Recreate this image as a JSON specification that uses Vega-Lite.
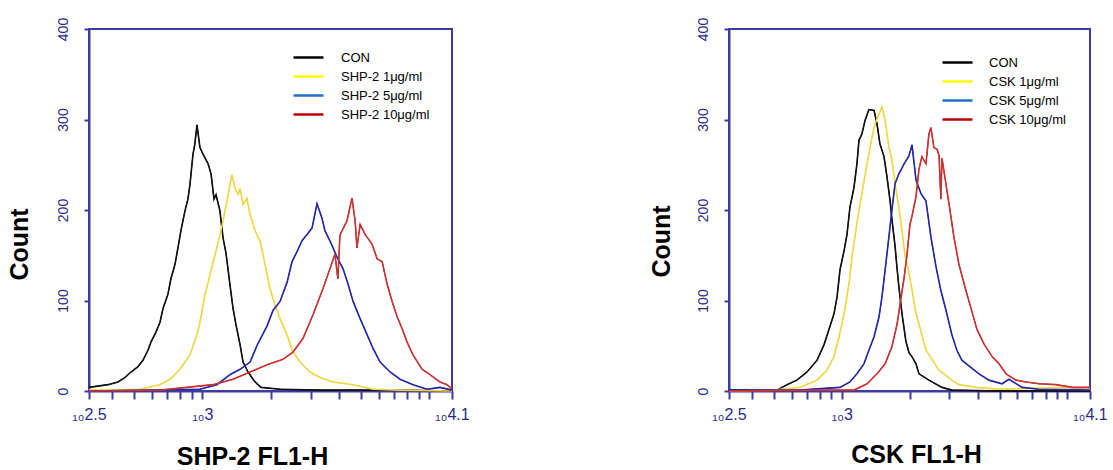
{
  "$schema": "https://vega.github.io/schema/vega-lite/v6.json",
  "background": "white",
  "padding": {"left": 6, "top": 16, "right": 5, "bottom": 0},
  "spacing": 177,
  "datasets": {
    "shp2": [
      {"sample":"CON","log10_FL1H":2.5,"count":4},{"sample":"CON","log10_FL1H":2.584,"count":7},{"sample":"CON","log10_FL1H":2.628,"count":10},{"sample":"CON","log10_FL1H":2.659,"count":15},{"sample":"CON","log10_FL1H":2.685,"count":21},{"sample":"CON","log10_FL1H":2.716,"count":27},{"sample":"CON","log10_FL1H":2.738,"count":34},{"sample":"CON","log10_FL1H":2.76,"count":45},{"sample":"CON","log10_FL1H":2.773,"count":54},{"sample":"CON","log10_FL1H":2.795,"count":65},{"sample":"CON","log10_FL1H":2.813,"count":76},{"sample":"CON","log10_FL1H":2.826,"count":91},{"sample":"CON","log10_FL1H":2.848,"count":107},{"sample":"CON","log10_FL1H":2.861,"count":124},{"sample":"CON","log10_FL1H":2.879,"count":140},{"sample":"CON","log10_FL1H":2.892,"count":158},{"sample":"CON","log10_FL1H":2.905,"count":177},{"sample":"CON","log10_FL1H":2.923,"count":199},{"sample":"CON","log10_FL1H":2.936,"count":212},{"sample":"CON","log10_FL1H":2.945,"count":228},{"sample":"CON","log10_FL1H":2.958,"count":261},{"sample":"CON","log10_FL1H":2.967,"count":274},{"sample":"CON","log10_FL1H":2.976,"count":294},{"sample":"CON","log10_FL1H":2.989,"count":269},{"sample":"CON","log10_FL1H":3.002,"count":262},{"sample":"CON","log10_FL1H":3.025,"count":251},{"sample":"CON","log10_FL1H":3.038,"count":240},{"sample":"CON","log10_FL1H":3.051,"count":212},{"sample":"CON","log10_FL1H":3.06,"count":217},{"sample":"CON","log10_FL1H":3.077,"count":199},{"sample":"CON","log10_FL1H":3.091,"count":169},{"sample":"CON","log10_FL1H":3.104,"count":152},{"sample":"CON","log10_FL1H":3.121,"count":118},{"sample":"CON","log10_FL1H":3.135,"count":91},{"sample":"CON","log10_FL1H":3.148,"count":73},{"sample":"CON","log10_FL1H":3.166,"count":51},{"sample":"CON","log10_FL1H":3.179,"count":32},{"sample":"CON","log10_FL1H":3.201,"count":21},{"sample":"CON","log10_FL1H":3.232,"count":10},{"sample":"CON","log10_FL1H":3.258,"count":4},{"sample":"CON","log10_FL1H":3.342,"count":2},{"sample":"CON","log10_FL1H":3.518,"count":1},{"sample":"CON","log10_FL1H":3.871,"count":1},{"sample":"CON","log10_FL1H":4.1,"count":0},
      {"sample":"SHP-2 1μg/ml","log10_FL1H":2.5,"count":1},{"sample":"SHP-2 1μg/ml","log10_FL1H":2.725,"count":2},{"sample":"SHP-2 1μg/ml","log10_FL1H":2.813,"count":7},{"sample":"SHP-2 1μg/ml","log10_FL1H":2.857,"count":13},{"sample":"SHP-2 1μg/ml","log10_FL1H":2.901,"count":24},{"sample":"SHP-2 1μg/ml","log10_FL1H":2.945,"count":40},{"sample":"SHP-2 1μg/ml","log10_FL1H":2.976,"count":62},{"sample":"SHP-2 1μg/ml","log10_FL1H":2.989,"count":76},{"sample":"SHP-2 1μg/ml","log10_FL1H":3.011,"count":106},{"sample":"SHP-2 1μg/ml","log10_FL1H":3.033,"count":128},{"sample":"SHP-2 1μg/ml","log10_FL1H":3.055,"count":150},{"sample":"SHP-2 1μg/ml","log10_FL1H":3.077,"count":172},{"sample":"SHP-2 1μg/ml","log10_FL1H":3.091,"count":188},{"sample":"SHP-2 1μg/ml","log10_FL1H":3.108,"count":210},{"sample":"SHP-2 1μg/ml","log10_FL1H":3.13,"count":239},{"sample":"SHP-2 1μg/ml","log10_FL1H":3.144,"count":224},{"sample":"SHP-2 1μg/ml","log10_FL1H":3.157,"count":217},{"sample":"SHP-2 1μg/ml","log10_FL1H":3.166,"count":224},{"sample":"SHP-2 1μg/ml","log10_FL1H":3.179,"count":206},{"sample":"SHP-2 1μg/ml","log10_FL1H":3.196,"count":213},{"sample":"SHP-2 1μg/ml","log10_FL1H":3.21,"count":195},{"sample":"SHP-2 1μg/ml","log10_FL1H":3.232,"count":177},{"sample":"SHP-2 1μg/ml","log10_FL1H":3.254,"count":166},{"sample":"SHP-2 1μg/ml","log10_FL1H":3.276,"count":140},{"sample":"SHP-2 1μg/ml","log10_FL1H":3.298,"count":113},{"sample":"SHP-2 1μg/ml","log10_FL1H":3.32,"count":95},{"sample":"SHP-2 1μg/ml","log10_FL1H":3.342,"count":80},{"sample":"SHP-2 1μg/ml","log10_FL1H":3.373,"count":62},{"sample":"SHP-2 1μg/ml","log10_FL1H":3.399,"count":43},{"sample":"SHP-2 1μg/ml","log10_FL1H":3.43,"count":32},{"sample":"SHP-2 1μg/ml","log10_FL1H":3.474,"count":21},{"sample":"SHP-2 1μg/ml","log10_FL1H":3.518,"count":15},{"sample":"SHP-2 1μg/ml","log10_FL1H":3.575,"count":10},{"sample":"SHP-2 1μg/ml","log10_FL1H":3.664,"count":7},{"sample":"SHP-2 1μg/ml","log10_FL1H":3.752,"count":2},{"sample":"SHP-2 1μg/ml","log10_FL1H":3.871,"count":1},{"sample":"SHP-2 1μg/ml","log10_FL1H":4.1,"count":0},
      {"sample":"SHP-2 5μg/ml","log10_FL1H":2.5,"count":0},{"sample":"SHP-2 5μg/ml","log10_FL1H":2.769,"count":1},{"sample":"SHP-2 5μg/ml","log10_FL1H":2.989,"count":2},{"sample":"SHP-2 5μg/ml","log10_FL1H":3.064,"count":7},{"sample":"SHP-2 5μg/ml","log10_FL1H":3.121,"count":18},{"sample":"SHP-2 5μg/ml","log10_FL1H":3.166,"count":24},{"sample":"SHP-2 5μg/ml","log10_FL1H":3.21,"count":32},{"sample":"SHP-2 5μg/ml","log10_FL1H":3.24,"count":50},{"sample":"SHP-2 5μg/ml","log10_FL1H":3.285,"count":72},{"sample":"SHP-2 5μg/ml","log10_FL1H":3.311,"count":89},{"sample":"SHP-2 5μg/ml","log10_FL1H":3.342,"count":99},{"sample":"SHP-2 5μg/ml","log10_FL1H":3.373,"count":120},{"sample":"SHP-2 5μg/ml","log10_FL1H":3.395,"count":143},{"sample":"SHP-2 5μg/ml","log10_FL1H":3.417,"count":154},{"sample":"SHP-2 5μg/ml","log10_FL1H":3.439,"count":166},{"sample":"SHP-2 5μg/ml","log10_FL1H":3.461,"count":173},{"sample":"SHP-2 5μg/ml","log10_FL1H":3.483,"count":180},{"sample":"SHP-2 5μg/ml","log10_FL1H":3.505,"count":207},{"sample":"SHP-2 5μg/ml","log10_FL1H":3.527,"count":191},{"sample":"SHP-2 5μg/ml","log10_FL1H":3.54,"count":177},{"sample":"SHP-2 5μg/ml","log10_FL1H":3.562,"count":166},{"sample":"SHP-2 5μg/ml","log10_FL1H":3.593,"count":148},{"sample":"SHP-2 5μg/ml","log10_FL1H":3.62,"count":135},{"sample":"SHP-2 5μg/ml","log10_FL1H":3.642,"count":118},{"sample":"SHP-2 5μg/ml","log10_FL1H":3.664,"count":99},{"sample":"SHP-2 5μg/ml","log10_FL1H":3.695,"count":80},{"sample":"SHP-2 5μg/ml","log10_FL1H":3.726,"count":62},{"sample":"SHP-2 5μg/ml","log10_FL1H":3.752,"count":47},{"sample":"SHP-2 5μg/ml","log10_FL1H":3.783,"count":32},{"sample":"SHP-2 5μg/ml","log10_FL1H":3.827,"count":21},{"sample":"SHP-2 5μg/ml","log10_FL1H":3.871,"count":13},{"sample":"SHP-2 5μg/ml","log10_FL1H":3.928,"count":7},{"sample":"SHP-2 5μg/ml","log10_FL1H":3.99,"count":2},{"sample":"SHP-2 5μg/ml","log10_FL1H":4.047,"count":4},{"sample":"SHP-2 5μg/ml","log10_FL1H":4.1,"count":1},
      {"sample":"SHP-2 10μg/ml","log10_FL1H":2.5,"count":0},{"sample":"SHP-2 10μg/ml","log10_FL1H":2.813,"count":1},{"sample":"SHP-2 10μg/ml","log10_FL1H":3.047,"count":7},{"sample":"SHP-2 10μg/ml","log10_FL1H":3.135,"count":13},{"sample":"SHP-2 10μg/ml","log10_FL1H":3.21,"count":21},{"sample":"SHP-2 10μg/ml","log10_FL1H":3.285,"count":29},{"sample":"SHP-2 10μg/ml","log10_FL1H":3.355,"count":35},{"sample":"SHP-2 10μg/ml","log10_FL1H":3.399,"count":43},{"sample":"SHP-2 10μg/ml","log10_FL1H":3.443,"count":58},{"sample":"SHP-2 10μg/ml","log10_FL1H":3.487,"count":84},{"sample":"SHP-2 10μg/ml","log10_FL1H":3.531,"count":113},{"sample":"SHP-2 10μg/ml","log10_FL1H":3.562,"count":135},{"sample":"SHP-2 10μg/ml","log10_FL1H":3.584,"count":151},{"sample":"SHP-2 10μg/ml","log10_FL1H":3.597,"count":124},{"sample":"SHP-2 10μg/ml","log10_FL1H":3.606,"count":172},{"sample":"SHP-2 10μg/ml","log10_FL1H":3.615,"count":177},{"sample":"SHP-2 10μg/ml","log10_FL1H":3.637,"count":188},{"sample":"SHP-2 10μg/ml","log10_FL1H":3.659,"count":213},{"sample":"SHP-2 10μg/ml","log10_FL1H":3.673,"count":188},{"sample":"SHP-2 10μg/ml","log10_FL1H":3.681,"count":158},{"sample":"SHP-2 10μg/ml","log10_FL1H":3.695,"count":184},{"sample":"SHP-2 10μg/ml","log10_FL1H":3.717,"count":173},{"sample":"SHP-2 10μg/ml","log10_FL1H":3.748,"count":162},{"sample":"SHP-2 10μg/ml","log10_FL1H":3.77,"count":146},{"sample":"SHP-2 10μg/ml","log10_FL1H":3.792,"count":143},{"sample":"SHP-2 10μg/ml","log10_FL1H":3.814,"count":118},{"sample":"SHP-2 10μg/ml","log10_FL1H":3.836,"count":99},{"sample":"SHP-2 10μg/ml","log10_FL1H":3.858,"count":82},{"sample":"SHP-2 10μg/ml","log10_FL1H":3.88,"count":69},{"sample":"SHP-2 10μg/ml","log10_FL1H":3.902,"count":54},{"sample":"SHP-2 10μg/ml","log10_FL1H":3.928,"count":40},{"sample":"SHP-2 10μg/ml","log10_FL1H":3.968,"count":24},{"sample":"SHP-2 10μg/ml","log10_FL1H":4.003,"count":18},{"sample":"SHP-2 10μg/ml","log10_FL1H":4.047,"count":10},{"sample":"SHP-2 10μg/ml","log10_FL1H":4.078,"count":7},{"sample":"SHP-2 10μg/ml","log10_FL1H":4.1,"count":2}
    ],
    "csk": [
      {"sample":"CON","log10_FL1H":2.5,"count":1},{"sample":"CON","log10_FL1H":2.713,"count":1},{"sample":"CON","log10_FL1H":2.757,"count":7},{"sample":"CON","log10_FL1H":2.801,"count":12},{"sample":"CON","log10_FL1H":2.846,"count":21},{"sample":"CON","log10_FL1H":2.89,"count":34},{"sample":"CON","log10_FL1H":2.921,"count":51},{"sample":"CON","log10_FL1H":2.943,"count":68},{"sample":"CON","log10_FL1H":2.965,"count":85},{"sample":"CON","log10_FL1H":2.979,"count":104},{"sample":"CON","log10_FL1H":2.992,"count":134},{"sample":"CON","log10_FL1H":3.01,"count":155},{"sample":"CON","log10_FL1H":3.023,"count":173},{"sample":"CON","log10_FL1H":3.036,"count":203},{"sample":"CON","log10_FL1H":3.054,"count":225},{"sample":"CON","log10_FL1H":3.067,"count":251},{"sample":"CON","log10_FL1H":3.076,"count":277},{"sample":"CON","log10_FL1H":3.089,"count":284},{"sample":"CON","log10_FL1H":3.103,"count":299},{"sample":"CON","log10_FL1H":3.12,"count":311},{"sample":"CON","log10_FL1H":3.143,"count":310},{"sample":"CON","log10_FL1H":3.156,"count":295},{"sample":"CON","log10_FL1H":3.169,"count":273},{"sample":"CON","log10_FL1H":3.187,"count":259},{"sample":"CON","log10_FL1H":3.2,"count":237},{"sample":"CON","log10_FL1H":3.214,"count":210},{"sample":"CON","log10_FL1H":3.222,"count":190},{"sample":"CON","log10_FL1H":3.236,"count":160},{"sample":"CON","log10_FL1H":3.245,"count":135},{"sample":"CON","log10_FL1H":3.253,"count":115},{"sample":"CON","log10_FL1H":3.267,"count":85},{"sample":"CON","log10_FL1H":3.284,"count":55},{"sample":"CON","log10_FL1H":3.298,"count":42},{"sample":"CON","log10_FL1H":3.311,"count":38},{"sample":"CON","log10_FL1H":3.329,"count":30},{"sample":"CON","log10_FL1H":3.342,"count":19},{"sample":"CON","log10_FL1H":3.386,"count":12},{"sample":"CON","log10_FL1H":3.444,"count":4},{"sample":"CON","log10_FL1H":3.488,"count":1},{"sample":"CON","log10_FL1H":3.697,"count":0},{"sample":"CON","log10_FL1H":4.1,"count":0},
      {"sample":"CSK 1μg/ml","log10_FL1H":2.5,"count":0},{"sample":"CSK 1μg/ml","log10_FL1H":2.7,"count":1},{"sample":"CSK 1μg/ml","log10_FL1H":2.815,"count":4},{"sample":"CSK 1μg/ml","log10_FL1H":2.89,"count":12},{"sample":"CSK 1μg/ml","log10_FL1H":2.934,"count":23},{"sample":"CSK 1μg/ml","log10_FL1H":2.965,"count":38},{"sample":"CSK 1μg/ml","log10_FL1H":2.988,"count":60},{"sample":"CSK 1μg/ml","log10_FL1H":3.01,"count":85},{"sample":"CSK 1μg/ml","log10_FL1H":3.032,"count":119},{"sample":"CSK 1μg/ml","log10_FL1H":3.045,"count":148},{"sample":"CSK 1μg/ml","log10_FL1H":3.067,"count":185},{"sample":"CSK 1μg/ml","log10_FL1H":3.089,"count":218},{"sample":"CSK 1μg/ml","log10_FL1H":3.112,"count":251},{"sample":"CSK 1μg/ml","log10_FL1H":3.134,"count":281},{"sample":"CSK 1μg/ml","log10_FL1H":3.147,"count":295},{"sample":"CSK 1μg/ml","log10_FL1H":3.165,"count":306},{"sample":"CSK 1μg/ml","log10_FL1H":3.178,"count":314},{"sample":"CSK 1μg/ml","log10_FL1H":3.192,"count":299},{"sample":"CSK 1μg/ml","log10_FL1H":3.209,"count":269},{"sample":"CSK 1μg/ml","log10_FL1H":3.222,"count":255},{"sample":"CSK 1μg/ml","log10_FL1H":3.236,"count":229},{"sample":"CSK 1μg/ml","log10_FL1H":3.253,"count":203},{"sample":"CSK 1μg/ml","log10_FL1H":3.267,"count":177},{"sample":"CSK 1μg/ml","log10_FL1H":3.28,"count":150},{"sample":"CSK 1μg/ml","log10_FL1H":3.298,"count":130},{"sample":"CSK 1μg/ml","log10_FL1H":3.311,"count":112},{"sample":"CSK 1μg/ml","log10_FL1H":3.329,"count":85},{"sample":"CSK 1μg/ml","log10_FL1H":3.342,"count":74},{"sample":"CSK 1μg/ml","log10_FL1H":3.373,"count":45},{"sample":"CSK 1μg/ml","log10_FL1H":3.431,"count":23},{"sample":"CSK 1μg/ml","log10_FL1H":3.488,"count":12},{"sample":"CSK 1μg/ml","log10_FL1H":3.519,"count":7},{"sample":"CSK 1μg/ml","log10_FL1H":3.595,"count":4},{"sample":"CSK 1μg/ml","log10_FL1H":3.697,"count":2},{"sample":"CSK 1μg/ml","log10_FL1H":3.994,"count":4},{"sample":"CSK 1μg/ml","log10_FL1H":4.1,"count":2},
      {"sample":"CSK 5μg/ml","log10_FL1H":2.5,"count":1},{"sample":"CSK 5μg/ml","log10_FL1H":2.81,"count":1},{"sample":"CSK 5μg/ml","log10_FL1H":2.992,"count":4},{"sample":"CSK 5μg/ml","log10_FL1H":3.036,"count":10},{"sample":"CSK 5μg/ml","log10_FL1H":3.067,"count":19},{"sample":"CSK 5μg/ml","log10_FL1H":3.098,"count":30},{"sample":"CSK 5μg/ml","log10_FL1H":3.12,"count":45},{"sample":"CSK 5μg/ml","log10_FL1H":3.143,"count":60},{"sample":"CSK 5μg/ml","log10_FL1H":3.165,"count":82},{"sample":"CSK 5μg/ml","log10_FL1H":3.178,"count":104},{"sample":"CSK 5μg/ml","log10_FL1H":3.192,"count":134},{"sample":"CSK 5μg/ml","log10_FL1H":3.209,"count":171},{"sample":"CSK 5μg/ml","log10_FL1H":3.222,"count":200},{"sample":"CSK 5μg/ml","log10_FL1H":3.236,"count":229},{"sample":"CSK 5μg/ml","log10_FL1H":3.253,"count":240},{"sample":"CSK 5μg/ml","log10_FL1H":3.276,"count":251},{"sample":"CSK 5μg/ml","log10_FL1H":3.298,"count":260},{"sample":"CSK 5μg/ml","log10_FL1H":3.311,"count":272},{"sample":"CSK 5μg/ml","log10_FL1H":3.329,"count":233},{"sample":"CSK 5μg/ml","log10_FL1H":3.351,"count":218},{"sample":"CSK 5μg/ml","log10_FL1H":3.373,"count":210},{"sample":"CSK 5μg/ml","log10_FL1H":3.395,"count":170},{"sample":"CSK 5μg/ml","log10_FL1H":3.417,"count":138},{"sample":"CSK 5μg/ml","log10_FL1H":3.439,"count":111},{"sample":"CSK 5μg/ml","log10_FL1H":3.462,"count":89},{"sample":"CSK 5μg/ml","log10_FL1H":3.488,"count":62},{"sample":"CSK 5μg/ml","log10_FL1H":3.51,"count":45},{"sample":"CSK 5μg/ml","log10_FL1H":3.532,"count":34},{"sample":"CSK 5μg/ml","log10_FL1H":3.572,"count":26},{"sample":"CSK 5μg/ml","log10_FL1H":3.608,"count":19},{"sample":"CSK 5μg/ml","log10_FL1H":3.652,"count":12},{"sample":"CSK 5μg/ml","log10_FL1H":3.71,"count":8},{"sample":"CSK 5μg/ml","log10_FL1H":3.741,"count":13},{"sample":"CSK 5μg/ml","log10_FL1H":3.799,"count":4},{"sample":"CSK 5μg/ml","log10_FL1H":3.874,"count":2},{"sample":"CSK 5μg/ml","log10_FL1H":4.1,"count":1},
      {"sample":"CSK 10μg/ml","log10_FL1H":2.5,"count":0},{"sample":"CSK 10μg/ml","log10_FL1H":2.899,"count":1},{"sample":"CSK 10μg/ml","log10_FL1H":3.054,"count":1},{"sample":"CSK 10μg/ml","log10_FL1H":3.112,"count":8},{"sample":"CSK 10μg/ml","log10_FL1H":3.156,"count":19},{"sample":"CSK 10μg/ml","log10_FL1H":3.192,"count":30},{"sample":"CSK 10μg/ml","log10_FL1H":3.222,"count":49},{"sample":"CSK 10μg/ml","log10_FL1H":3.245,"count":74},{"sample":"CSK 10μg/ml","log10_FL1H":3.258,"count":96},{"sample":"CSK 10μg/ml","log10_FL1H":3.276,"count":125},{"sample":"CSK 10μg/ml","log10_FL1H":3.289,"count":151},{"sample":"CSK 10μg/ml","log10_FL1H":3.302,"count":184},{"sample":"CSK 10μg/ml","log10_FL1H":3.311,"count":193},{"sample":"CSK 10μg/ml","log10_FL1H":3.329,"count":215},{"sample":"CSK 10μg/ml","log10_FL1H":3.342,"count":245},{"sample":"CSK 10μg/ml","log10_FL1H":3.355,"count":259},{"sample":"CSK 10μg/ml","log10_FL1H":3.373,"count":251},{"sample":"CSK 10μg/ml","log10_FL1H":3.386,"count":284},{"sample":"CSK 10μg/ml","log10_FL1H":3.395,"count":291},{"sample":"CSK 10μg/ml","log10_FL1H":3.408,"count":269},{"sample":"CSK 10μg/ml","log10_FL1H":3.422,"count":267},{"sample":"CSK 10μg/ml","log10_FL1H":3.431,"count":260},{"sample":"CSK 10μg/ml","log10_FL1H":3.439,"count":212},{"sample":"CSK 10μg/ml","log10_FL1H":3.444,"count":257},{"sample":"CSK 10μg/ml","log10_FL1H":3.462,"count":228},{"sample":"CSK 10μg/ml","log10_FL1H":3.475,"count":207},{"sample":"CSK 10μg/ml","log10_FL1H":3.497,"count":170},{"sample":"CSK 10μg/ml","log10_FL1H":3.519,"count":140},{"sample":"CSK 10μg/ml","log10_FL1H":3.55,"count":111},{"sample":"CSK 10μg/ml","log10_FL1H":3.573,"count":91},{"sample":"CSK 10μg/ml","log10_FL1H":3.599,"count":68},{"sample":"CSK 10μg/ml","log10_FL1H":3.63,"count":52},{"sample":"CSK 10μg/ml","log10_FL1H":3.666,"count":38},{"sample":"CSK 10μg/ml","log10_FL1H":3.697,"count":30},{"sample":"CSK 10μg/ml","log10_FL1H":3.728,"count":19},{"sample":"CSK 10μg/ml","log10_FL1H":3.772,"count":12},{"sample":"CSK 10μg/ml","log10_FL1H":3.816,"count":10},{"sample":"CSK 10μg/ml","log10_FL1H":3.874,"count":8},{"sample":"CSK 10μg/ml","log10_FL1H":3.949,"count":7},{"sample":"CSK 10μg/ml","log10_FL1H":4.02,"count":4},{"sample":"CSK 10μg/ml","log10_FL1H":4.1,"count":4}
    ]
  },
  "hconcat": [
    {
      "width": 363,
      "height": 362,
      "data": {"name": "shp2"},
      "encoding": {
        "x": {"field": "log10_FL1H", "type": "quantitative", "title": "SHP-2 FL1-H",
          "scale": {"domain": [2.5, 4.1], "nice": false, "zero": false},
          "axis": {"values": [2.5, 2.60206, 2.69897, 2.77815, 2.8451, 2.90309, 2.95424, 3, 3.30103, 3.47712, 3.60206, 3.69897, 3.77815, 3.8451, 3.90309, 3.95424, 4, 4.1],
            "labelExpr": "datum.value == 2.5 ? '₁₀2.5' : datum.value == 3 ? '₁₀3' : datum.value == 4.1 ? '₁₀4.1' : ''",
            "tickSize": 8, "labelPadding": 7, "labelFontSize": 16, "labelBaseline": "top", "labelFlush": false, "labelOverlap": false, "labelBound": false,
            "titleX": 163, "titleY": 73, "titleBaseline": "alphabetic", "titleAlign": "center"}},
        "y": {"field": "count", "type": "quantitative", "title": "Count",
          "scale": {"domain": [0, 400], "nice": false},
          "axis": {"values": [0, 100, 200, 300, 400], "labelAngle": -90, "labelAlign": "center", "labelBaseline": "middle", "labelPadding": 21, "tickSize": 5,
            "titleX": -70, "titleY": 215, "titleAngle": -90, "titleBaseline": "middle", "titleAlign": "center"}}
      },
      "layer": [
        {"mark": {"type": "line", "strokeWidth": 1},
         "encoding": {"color": {"field": "sample", "type": "nominal",
           "scale": {"domain": ["CON", "SHP-2 1μg/ml", "SHP-2 5μg/ml", "SHP-2 10μg/ml"], "range": ["#000000", "#ffff00", "#1f72c8", "#c00000"]},
           "legend": {"orient": "none", "legendX": 203, "legendY": 19, "title": null, "symbolType": "stroke", "symbolSize": 900, "symbolStrokeWidth": 2.5, "labelFontSize": 13, "labelFont": "Liberation Sans", "labelColor": "#000000", "labelOffset": 16, "clipHeight": 19, "rowPadding": 0, "padding": 0}}}},
        {"mark": {"type": "line", "strokeWidth": 1.6},
         "encoding": {"stroke": {"field": "sample", "type": "nominal",
           "scale": {"domain": ["CON", "SHP-2 1μg/ml", "SHP-2 5μg/ml", "SHP-2 10μg/ml"], "range": ["#111111", "#eed54a", "#2626a6", "#c83434"]},
           "legend": null}}}
      ]
    },
    {
      "width": 361,
      "height": 362,
      "data": {"name": "csk"},
      "encoding": {
        "x": {"field": "log10_FL1H", "type": "quantitative", "title": "CSK FL1-H",
          "scale": {"domain": [2.5, 4.1], "nice": false, "zero": false},
          "axis": {"values": [2.5, 2.60206, 2.69897, 2.77815, 2.8451, 2.90309, 2.95424, 3, 3.30103, 3.47712, 3.60206, 3.69897, 3.77815, 3.8451, 3.90309, 3.95424, 4, 4.1],
            "labelExpr": "datum.value == 2.5 ? '₁₀2.5' : datum.value == 3 ? '₁₀3' : datum.value == 4.1 ? '₁₀4.1' : ''",
            "tickSize": 8, "labelPadding": 7, "labelFontSize": 16, "labelBaseline": "top", "labelFlush": false, "labelOverlap": false, "labelBound": false,
            "titleX": 187, "titleY": 71, "titleBaseline": "alphabetic", "titleAlign": "center"}},
        "y": {"field": "count", "type": "quantitative", "title": "Count",
          "scale": {"domain": [0, 400], "nice": false},
          "axis": {"values": [0, 100, 200, 300, 400], "labelAngle": -90, "labelAlign": "center", "labelBaseline": "middle", "labelPadding": 21, "tickSize": 5,
            "titleX": -68, "titleY": 212, "titleAngle": -90, "titleBaseline": "middle", "titleAlign": "center"}}
      },
      "layer": [
        {"mark": {"type": "line", "strokeWidth": 1},
         "encoding": {"color": {"field": "sample", "type": "nominal",
           "scale": {"domain": ["CON", "CSK 1μg/ml", "CSK 5μg/ml", "CSK 10μg/ml"], "range": ["#000000", "#ffff00", "#1f72c8", "#c00000"]},
           "legend": {"orient": "none", "legendX": 212, "legendY": 24, "title": null, "symbolType": "stroke", "symbolSize": 900, "symbolStrokeWidth": 2.5, "labelFontSize": 13, "labelFont": "Liberation Sans", "labelColor": "#000000", "labelOffset": 15, "clipHeight": 19, "rowPadding": 0, "padding": 0}}}},
        {"mark": {"type": "line", "strokeWidth": 1.6},
         "encoding": {"stroke": {"field": "sample", "type": "nominal",
           "scale": {"domain": ["CON", "CSK 1μg/ml", "CSK 5μg/ml", "CSK 10μg/ml"], "range": ["#111111", "#eed54a", "#2626a6", "#c83434"]},
           "legend": null}}}
      ]
    }
  ],
  "resolve": {
    "scale": {"x": "independent", "y": "independent", "color": "independent", "stroke": "independent"},
    "legend": {"color": "independent", "stroke": "independent"}
  },
  "config": {
    "view": {"stroke": "#3c3ca0", "strokeWidth": 2},
    "axis": {"grid": false, "domainColor": "#3c3ca0", "domainWidth": 2, "tickColor": "#3c3ca0", "tickWidth": 2,
      "labelColor": "#2a2a8c", "labelFont": "Liberation Sans", "labelFontSize": 14,
      "titleFont": "Liberation Sans", "titleFontSize": 25, "titleFontWeight": "bold", "titleColor": "#000000"},
    "legend": {"labelFont": "Liberation Sans"}
  }
}
